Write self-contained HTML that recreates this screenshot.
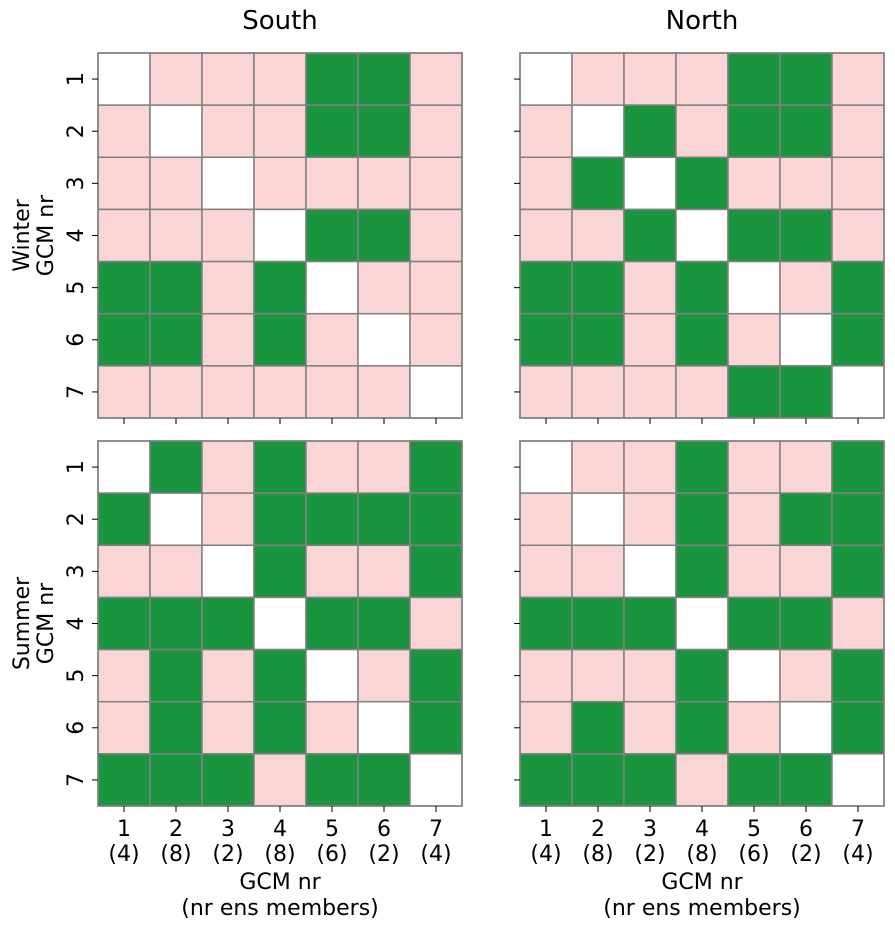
<!DOCTYPE html>
<html><head><meta charset="utf-8"><style>
body{margin:0;background:#fff;}
text{font-family:"DejaVu Sans","Liberation Sans",sans-serif;fill:#000;}
</style></head><body>
<svg id="chart" width="895" height="929" xmlns="http://www.w3.org/2000/svg"></svg>
<script>
const categories=["1","2","3","4","5","6","7"];
const members=["(4)","(8)","(2)","(8)","(6)","(2)","(4)"];
const columns=["South","North"];
const rows=["Winter","Summer"];
// 0 = diagonal (white), 1 = not significant (pink), 2 = significant (green)
const winterSouth=[[0,1,1,1,2,2,1],[1,0,1,1,2,2,1],[1,1,0,1,1,1,1],[1,1,1,0,2,2,1],[2,2,1,2,0,1,1],[2,2,1,2,1,0,1],[1,1,1,1,1,1,0]];
const winterNorth=[[0,1,1,1,2,2,1],[1,0,2,1,2,2,1],[1,2,0,2,1,1,1],[1,1,2,0,2,2,1],[2,2,1,2,0,1,2],[2,2,1,2,1,0,2],[1,1,1,1,2,2,0]];
const summerSouth=[[0,2,1,2,1,1,2],[2,0,1,2,2,2,2],[1,1,0,2,1,1,2],[2,2,2,0,2,2,1],[1,2,1,2,0,1,2],[1,2,1,2,1,0,2],[2,2,2,1,2,2,0]];
const summerNorth=[[0,1,1,2,1,1,2],[1,0,1,2,1,2,2],[1,1,0,2,1,1,2],[2,2,2,0,2,2,1],[1,1,1,2,0,1,2],[1,2,1,2,1,0,2],[2,2,2,1,2,2,0]];
const panels=[[winterSouth,winterNorth],[summerSouth,summerNorth]];
const colors=["#ffffff","#f9d6d5","#1b9440"];
const NS="http://www.w3.org/2000/svg";
const svg=document.getElementById("chart");
const px=[98,520], py=[53,441], W=364, H=365;
function mk(tag,attrs,parent){const e=document.createElementNS(NS,tag);for(const k in attrs)e.setAttribute(k,attrs[k]);(parent||svg).appendChild(e);return e;}
function xs(i,p){return px[p]+i*W/categories.length;}
function ys(i,r){return py[r]+i*H/categories.length;}
const cw=W/categories.length, ch=H/categories.length;
for(let r=0;r<2;r++)for(let c=0;c<2;c++){
  const g=mk("g",{});
  
  
  const m=panels[r][c];
  for(let i=0;i<m.length;i++)for(let j=0;j<m[i].length;j++){
    const rc=mk("rect",{x:xs(j,c),y:ys(i,r),width:cw,height:ch,fill:colors[m[i][j]],stroke:"#808080","stroke-width":1.5},g);
    
    
  }
  const fr=mk("rect",{x:px[c],y:py[r],width:W,height:H,fill:"none",stroke:"#808080","stroke-width":1.5},g);
  
  
  for(let i=0;i<categories.length;i++){
    const y=ys(i,r)+ch/2, x=xs(i,c)+cw/2;
    mk("line",{x1:px[c]-6,x2:px[c],y1:y,y2:y,stroke:"#000","stroke-width":1},g);
    mk("line",{x1:x,x2:x,y1:py[r]+H,y2:py[r]+H+6,stroke:"#000","stroke-width":1},g);
    if(c===0){
      const t=mk("text",{x:0,y:0,"font-size":22,"text-anchor":"middle",transform:`translate(83,${y}) rotate(-90)`},g);
      t.textContent=categories[i];
      
      
    }
    if(r===1){
      const t=mk("text",{x:x,y:py[r]+H+30,"font-size":22,"text-anchor":"middle"},g);
      t.textContent=categories[i];
      
      
      const t2=mk("text",{x:x,y:py[r]+H+55,"font-size":22,"text-anchor":"middle"},g);
      t2.textContent=members[i];
      
      
    }
  }
}
for(let c=0;c<2;c++){
  const t=mk("text",{x:px[c]+W/2,y:29,"font-size":26,"text-anchor":"middle"});
  t.textContent=columns[c];
  
  
  const a=mk("text",{x:px[c]+W/2,y:889,"font-size":22,"text-anchor":"middle"});
  a.textContent="GCM nr";
  
  
  const b=mk("text",{x:px[c]+W/2,y:915,"font-size":22,"text-anchor":"middle"});
  b.textContent="(nr ens members)";
  
  
}
for(let r=0;r<2;r++){
  const cy=py[r]+H/2;
  const t=mk("text",{x:0,y:0,"font-size":22,"text-anchor":"middle",transform:`translate(29,${cy}) rotate(-90)`});
  t.textContent=rows[r];
  
  
  const t2=mk("text",{x:0,y:0,"font-size":22,"text-anchor":"middle",transform:`translate(53,${cy}) rotate(-90)`});
  t2.textContent="GCM nr";
  
  
}
</script>
</body></html>
